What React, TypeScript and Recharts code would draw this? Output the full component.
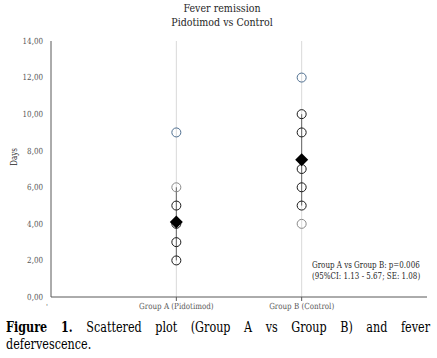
import React from "react";
import { ScatterChart, Scatter, XAxis, YAxis, ReferenceLine } from "recharts";

const groups = ["Group A (Pidotimod)", "Group B (Control)"];
const yTicks = [0, 2, 4, 6, 8, 10, 12, 14];

// individual values per group, split by the tone they are drawn in
const mainA = [5, 4, 3, 2];
const mainB = [10, 9, 7, 6, 5];
const highA = [9];
const highB = [12];
const edgeA = [6];
const edgeB = [4];

const means = [4.1, 7.5];
const rangeA = [2, 6];
const rangeB = [5, 10];

const pts = (g: number, vals: number[]) => vals.map((y) => ({ x: g + 1, y }));

// only a wide serif is available, so it gets squeezed to the Times width
const FONT = "DejaVu Serif";
const SQ = 0.85;
const CAP_SQ = 0.8;
const AXIS = "#595959";

const squeeze = (x: number) => `matrix(${SQ} 0 0 1 ${x * (1 - SQ)} 0)`;

const Ring = (color: string) => (p: any) =>
  <circle cx={p.cx} cy={p.cy} r={4.5} fill="none" stroke={color} strokeWidth={1} />;

const Diamond = (p: any) => {
  const s = 6.5;
  return (
    <polygon
      points={`${p.cx},${p.cy - s} ${p.cx + s},${p.cy} ${p.cx},${p.cy + s} ${p.cx - s},${p.cy}`}
      fill="#000"
    />
  );
};

const XTick = (p: any) => {
  const v = p.payload.value;
  if (v === 0) {
    return <text x={p.x - 4} y={p.y + 6} fontSize={7} fill={AXIS} fontFamily={FONT} textAnchor="middle">'</text>;
  }
  return (
    <g>
      <line x1={p.x} x2={p.x} y1={p.y - 6} y2={p.y - 2} stroke={AXIS} />
      <text x={p.x} y={p.y} dy="0.75em" fontSize={8.4} fill={AXIS} fontFamily={FONT} textAnchor="middle" transform={squeeze(p.x)}>
        {groups[v - 1]}
      </text>
    </g>
  );
};

const YTick = (p: any) => (
  <text x={p.x} y={p.y} dy="0.35em" fontSize={8.4} fill={AXIS} fontFamily={FONT} textAnchor="end" transform={squeeze(p.x)}>
    {p.payload.value.toFixed(2).replace(".", ",")}
  </text>
);

export default function App() {
  const meanData = means.map((y, i) => ({ x: i + 1, y }));
  const sq = { transform: `scaleX(${SQ})` };
  return (
    <div style={{ position: "absolute", left: 0, top: 0, width: 437, height: 358, background: "#fff", fontFamily: FONT }}>
      <div style={{ position: "absolute", left: 0, width: 444, top: 2, textAlign: "center", fontSize: 11.2, lineHeight: "14px", color: "#262626", ...sq, transformOrigin: "222px 0" }}>
        <div>Fever remission</div>
        <div>Pidotimod vs Control</div>
      </div>
      <div style={{ position: "absolute", left: 14, top: 157, fontSize: 8.4, color: "#262626", lineHeight: "10px", transform: `translate(-50%, -50%) rotate(-90deg) scaleX(${SQ})` }}>
        Days
      </div>
      <ScatterChart width={437} height={315} margin={{ top: 41, right: 10, bottom: 0, left: 0 }}>
        <XAxis
          type="number"
          dataKey="x"
          domain={[0, 3]}
          ticks={[0, 1, 2]}
          height={18}
          stroke={AXIS}
          tickLine={false}
          tickSize={4}
          tickMargin={2}
          tick={<XTick />}
        />
        <YAxis
          type="number"
          dataKey="y"
          domain={[0, 14]}
          ticks={yTicks}
          width={51}
          stroke={AXIS}
          tickLine={false}
          tick={<YTick />}
        />
        <ReferenceLine x={1} stroke="#d9d9d9" />
        <ReferenceLine x={2} stroke="#d9d9d9" />
        <Scatter data={pts(0, rangeA)} line={{ stroke: "#666", strokeWidth: 1 }} shape={() => null} isAnimationActive={false} />
        <Scatter data={pts(1, rangeB)} line={{ stroke: "#666", strokeWidth: 1 }} shape={() => null} isAnimationActive={false} />
        <Scatter data={[...pts(0, mainA), ...pts(1, mainB)]} shape={Ring("#1a1a1a")} isAnimationActive={false} />
        <Scatter data={[...pts(0, highA), ...pts(1, highB)]} shape={Ring("#4f6f90")} isAnimationActive={false} />
        <Scatter data={[...pts(0, edgeA), ...pts(1, edgeB)]} shape={Ring("#8a8a8a")} isAnimationActive={false} />
        <Scatter data={meanData} shape={Diamond} isAnimationActive={false} />
      </ScatterChart>
      <div style={{ position: "absolute", left: 312, top: 260, fontSize: 8.4, lineHeight: "11px", color: "#262626", whiteSpace: "nowrap", ...sq, transformOrigin: "0 0" }}>
        <div>Group A vs Group B: p=0.006</div>
        <div>(95%CI: 1.13 - 5.67; SE: 1.08)</div>
      </div>
      <div style={{ position: "absolute", left: 6, top: 319, width: 424 / CAP_SQ, fontSize: 14, lineHeight: "17px", color: "#000", transform: `scaleX(${CAP_SQ})`, transformOrigin: "0 0" }}>
        <div style={{ textAlign: "justify", textAlignLast: "justify", whiteSpace: "nowrap" }}>
          <b>Figure 1.</b> Scattered plot (Group A vs Group B) and fever
        </div>
        <div>defervescence.</div>
      </div>
    </div>
  );
}
